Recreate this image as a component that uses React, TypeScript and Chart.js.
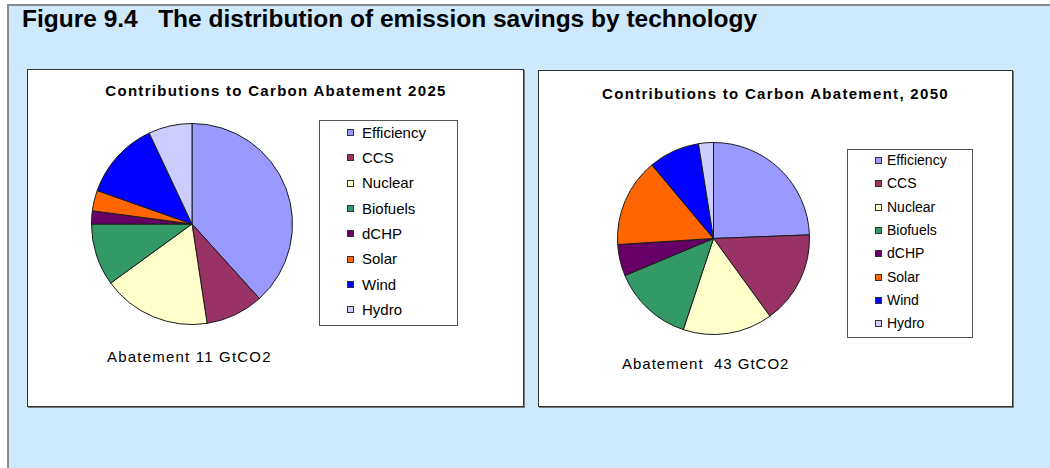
import React, { useEffect, useRef } from "react";
import { Chart, registerables } from "chart.js";

Chart.register(...registerables);

const technologies = ["Efficiency", "CCS", "Nuclear", "Biofuels", "dCHP", "Solar", "Wind", "Hydro"];
const share2025 = [38.3, 9.3, 17.4, 10.0, 2.1, 3.3, 12.6, 7.0];
const share2050 = [24.4, 15.6, 15.1, 13.6, 5.3, 14.9, 8.6, 2.5];
const techColors = ["#9999FF", "#993366", "#FFFFCC", "#339966", "#660066", "#FF6600", "#0000FF", "#CCCCFF"];

const figureTitle = "Figure 9.4\u00a0\u00a0 The distribution of emission savings by technology";
const title2025 = "Contributions to Carbon Abatement 2025";
const title2050 = "Contributions to Carbon Abatement, 2050";
const note2025 = "Abatement 11 GtCO2";
const note2050 = "Abatement\u00a0 43 GtCO2";

const FONT = '"Liberation Sans", Arial, Helvetica, sans-serif';

type PieProps = { left: number; top: number; size: number; values: number[] };

function Pie({ left, top, size, values }: PieProps) {
  const ref = useRef<HTMLCanvasElement | null>(null);
  useEffect(() => {
    if (!ref.current) return;
    const chart = new Chart(ref.current, {
      type: "pie",
      data: {
        labels: technologies,
        datasets: [
          {
            data: values,
            backgroundColor: techColors,
            borderColor: "#1a1a1a",
            borderWidth: 1,
          },
        ],
      },
      options: {
        responsive: false,
        animation: false,
        layout: { padding: 0 },
        plugins: { legend: { display: false }, tooltip: { enabled: false }, title: { display: false } },
      },
    });
    return () => chart.destroy();
  }, [values]);
  return (
    <canvas
      ref={ref}
      width={size}
      height={size}
      style={{ position: "absolute", left, top, width: size, height: size }}
    />
  );
}

function Text({ x, baseline, size, bold, children, spacing, center }: any) {
  const style: React.CSSProperties = {
    position: "absolute",
    top: baseline - 0.8465 * size,
    fontSize: size,
    lineHeight: `${size}px`,
    fontWeight: bold ? "bold" : "normal",
    whiteSpace: "pre",
    letterSpacing: spacing ? `${spacing}px` : undefined,
    color: "#000",
  };
  if (center !== undefined) {
    style.left = center - 300;
    style.width = 600;
    style.textAlign = "center";
  } else {
    style.left = x;
  }
  return <div style={style}>{children}</div>;
}

type LegendProps = {
  left: number;
  top: number;
  width: number;
  height: number;
  firstCenter: number;
  step: number;
  markerX: number;
  textX: number;
  fontSize: number;
};

function Legend({ left, top, width, height, firstCenter, step, markerX, textX, fontSize }: LegendProps) {
  return (
    <>
      <div
        style={{
          position: "absolute",
          left,
          top,
          width: width - 2,
          height: height - 2,
          border: "1px solid #555",
          background: "#fff",
        }}
      />
      {technologies.map((t, i) => {
        const cy = firstCenter + i * step;
        return (
          <React.Fragment key={t}>
            <div
              style={{
                position: "absolute",
                left: markerX,
                top: cy - 3,
                width: 5,
                height: 5,
                border: "1px solid #333",
                background: techColors[i],
              }}
            />
            <Text x={textX} baseline={cy + fontSize * 0.36} size={fontSize}>
              {t}
            </Text>
          </React.Fragment>
        );
      })}
    </>
  );
}

function Panel({ left, top, width, height }: { left: number; top: number; width: number; height: number }) {
  return (
    <div
      style={{
        position: "absolute",
        left,
        top,
        width: width - 2,
        height: height - 2,
        background: "#fff",
        border: "1px solid #333",
        boxShadow: "1px 1px 0 #7a7a7a",
      }}
    />
  );
}

export default function App() {
  return (
    <div
      style={{
        position: "fixed",
        left: 0,
        top: 0,
        width: 1050,
        height: 468,
        overflow: "hidden",
        background: "#fff",
        fontFamily: FONT,
      }}
    >
      <div
        style={{
          position: "absolute",
          left: 7,
          top: 4,
          width: 1100,
          height: 500,
          background: "#CFE9FC",
          borderLeft: "2px solid #8a8a8a",
          borderTop: "2px solid #8a8a8a",
        }}
      />
      <Text x={22} baseline={28} size={24.5} bold>
        {figureTitle}
      </Text>

      <Panel left={27} top={69} width={497} height={338} />
      <Panel left={538} top={70} width={475} height={337} />

      <Text center={276} baseline={95.5} size={15} bold spacing={1.3}>
        {title2025}
      </Text>
      <Text center={775.5} baseline={98.5} size={15} bold spacing={1.3}>
        {title2050}
      </Text>

      <Pie left={91} top={122.5} size={202} values={share2025} />
      <Pie left={617} top={141.5} size={193} values={share2050} />

      <Legend left={319} top={120} width={139} height={206} firstCenter={132} step={25.3} markerX={347} textX={362} fontSize={15} />
      <Legend left={847} top={149} width={126} height={189} firstCenter={160} step={23.3} markerX={875} textX={887} fontSize={14} />

      <Text x={107} baseline={361.5} size={15} spacing={1.2}>
        {note2025}
      </Text>
      <Text x={622} baseline={368.5} size={15} spacing={1}>
        {note2050}
      </Text>
    </div>
  );
}
